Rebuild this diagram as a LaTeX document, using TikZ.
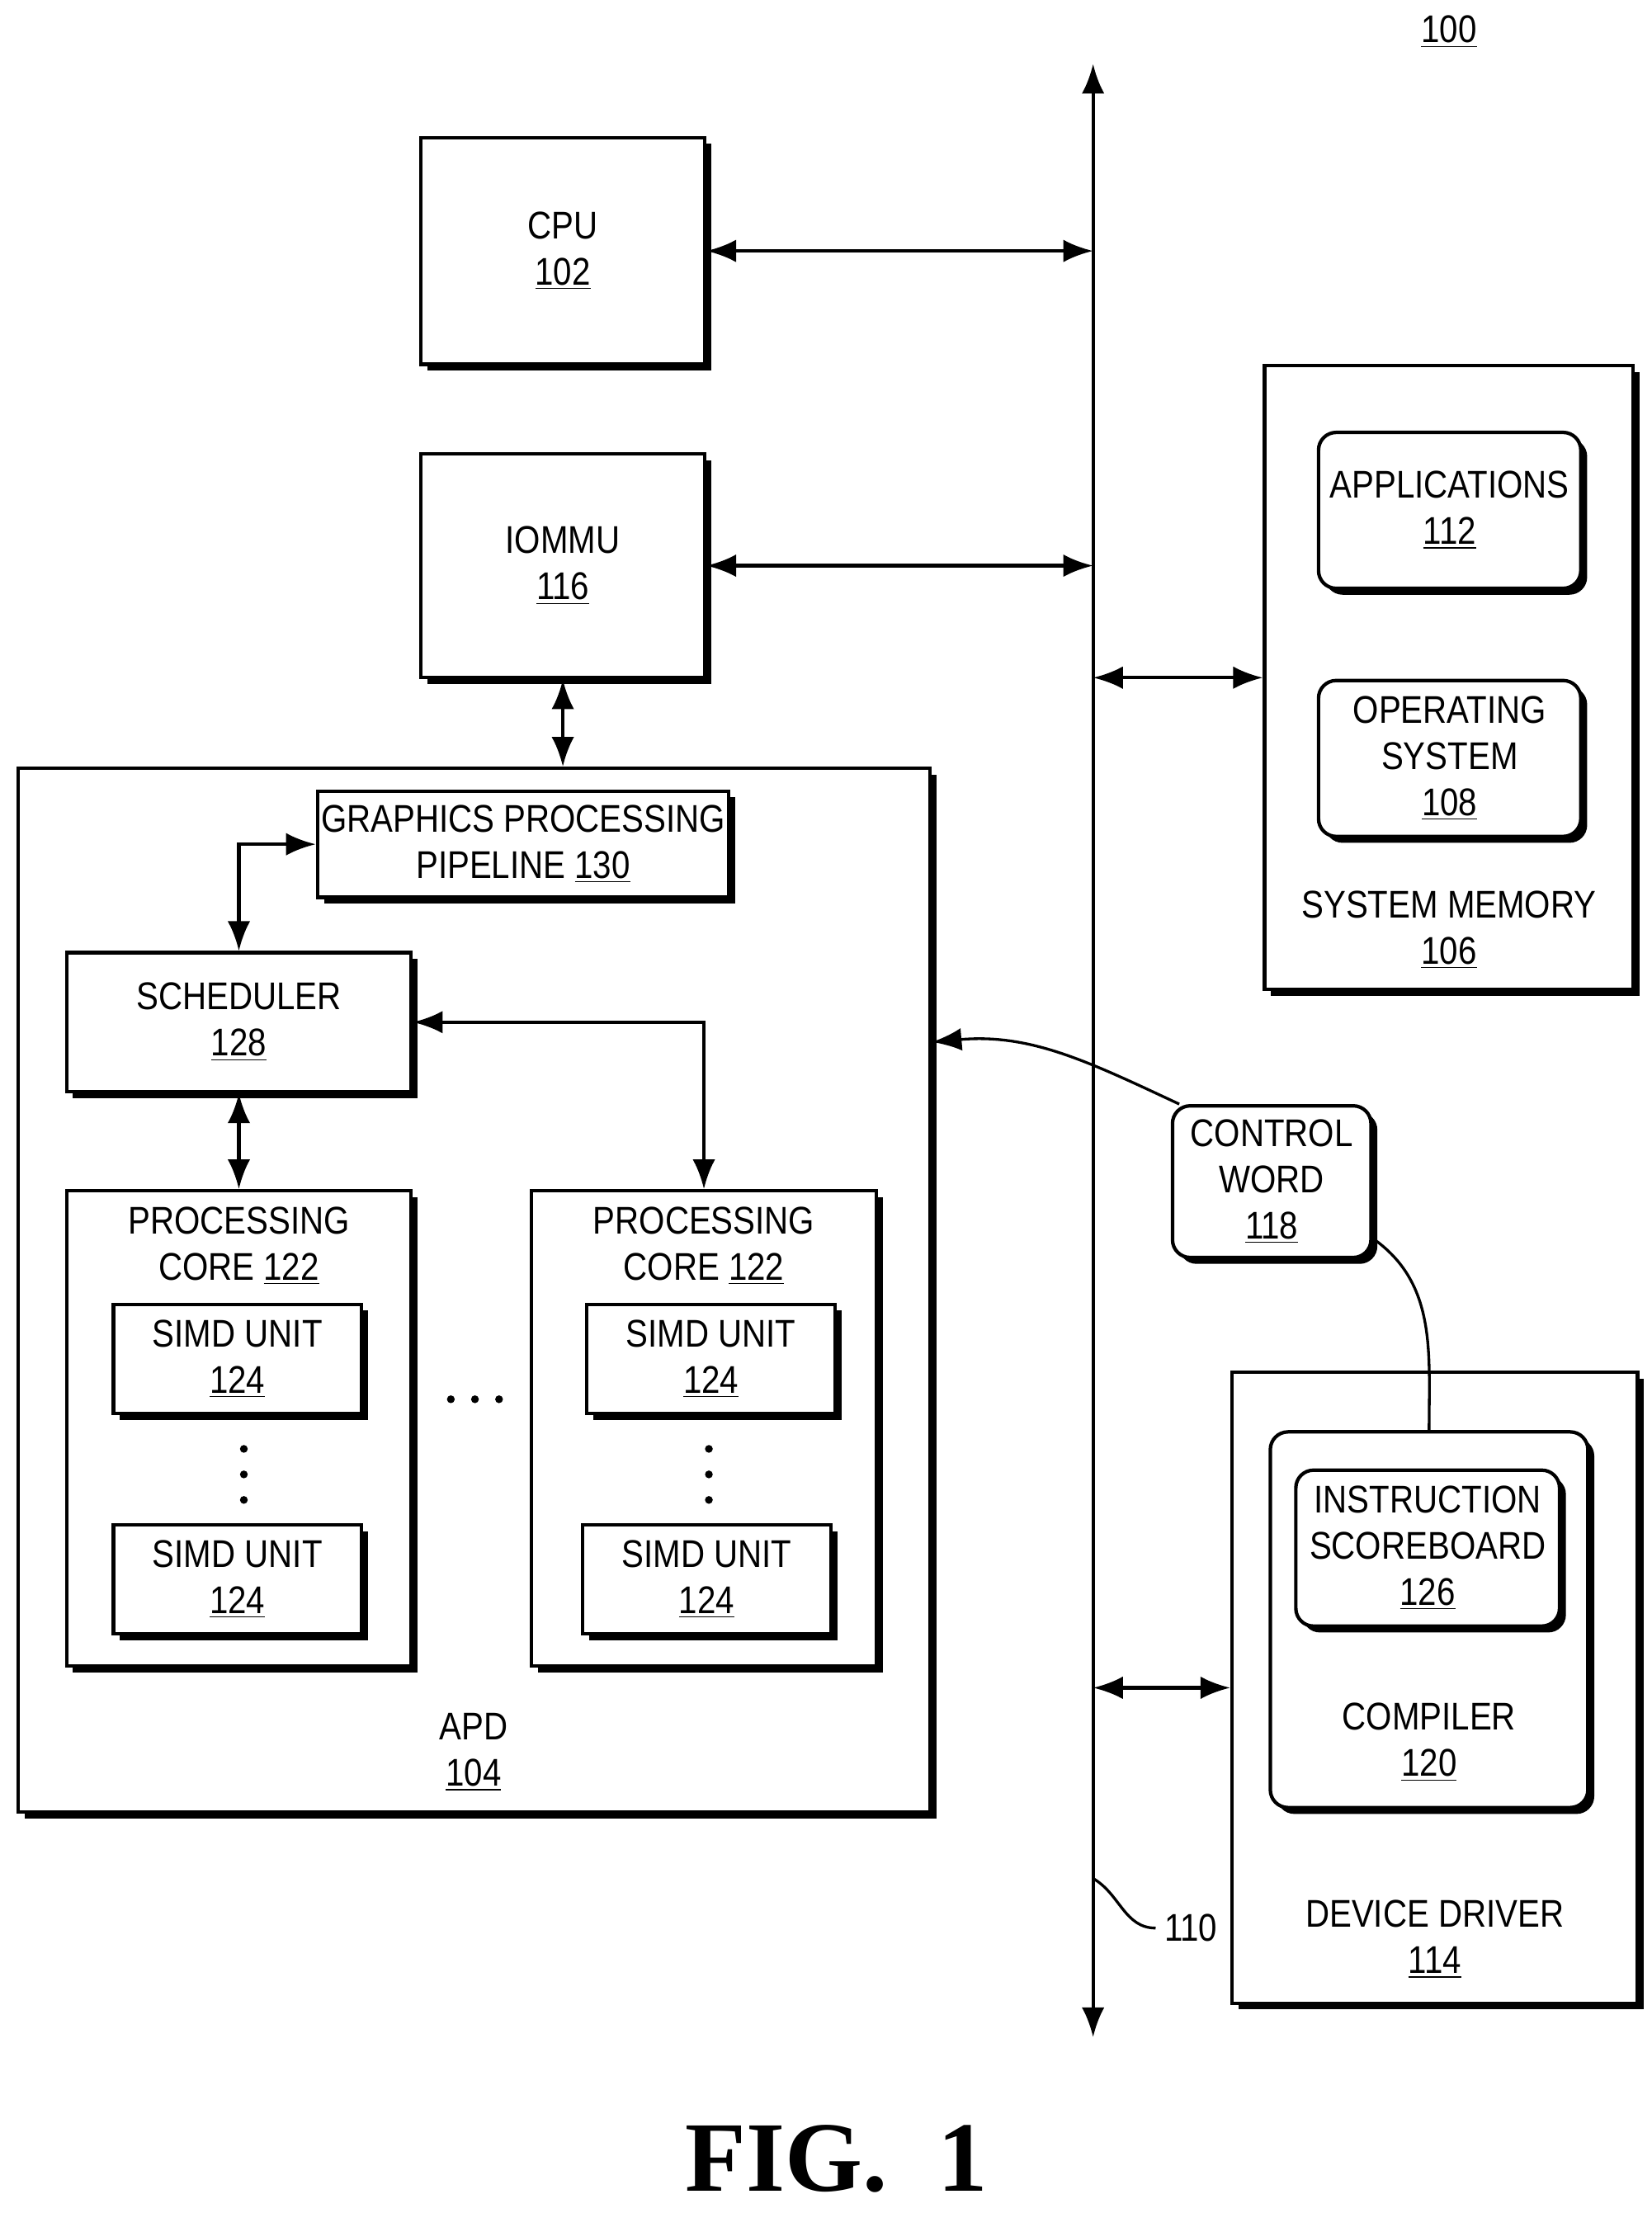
\documentclass[tikz,border=0pt]{standalone}
\usepackage{fontspec}
\setmainfont{Liberation Sans}[FakeStretch=0.86]
\newfontfamily\figfont{Liberation Serif}
\usetikzlibrary{arrows.meta,positioning,calc,shadows}

\begin{document}
\begin{tikzpicture}[
    every node/.style={font=\fontsize{15.5}{18.5}\selectfont, align=center},
    box/.style={rectangle, draw, line width=1.4pt, fill=white, inner sep=0pt,
        drop shadow={shadow xshift=0.09cm, shadow yshift=-0.09cm, fill=black, opacity=1}},
    rbox/.style={box, rounded corners=0.25cm},
    link/.style={line width=1.4pt, {Latex[length=0.42cm,width=0.32cm]}-{Latex[length=0.42cm,width=0.32cm]}},
    wire/.style={line width=1.1pt}
]
\useasboundingbox (0,0) rectangle (23.3,-31.22);

\node at (20.44,-0.45) {\underline{100}};

% bus 110
\coordinate (bt) at (15.42,-0.9);
\coordinate (bb) at (15.42,-28.74);
\draw[link] (bt) -- (bb);

% host side
\node[box, minimum width=4cm, minimum height=3.2cm] (cpu) at (7.94,-3.54) {CPU\\\underline{102}};
\node[box, minimum width=4cm, minimum height=3.16cm] (iommu) at (7.94,-7.98) {IOMMU\\\underline{116}};

\node[box, minimum width=5.2cm, minimum height=8.8cm] (sysmem) at (20.44,-9.56) {};
\node[rbox, minimum width=3.7cm, minimum height=2.2cm] (apps) at (20.45,-7.2) {APPLICATIONS\\\underline{112}};
\node[rbox, minimum width=3.7cm, minimum height=2.2cm] (os) at (20.45,-10.7) {OPERATING\\SYSTEM\\\underline{108}};
\node (sysmemlbl) at (20.44,-13.12) {SYSTEM MEMORY\\\underline{106}};

% APD
\node[box, minimum width=12.86cm, minimum height=14.72cm] (apd) at (6.69,-18.2) {};
\node (apdlbl) at (6.68,-24.72) {APD\\\underline{104}};
\node[box, minimum width=5.8cm, minimum height=1.5cm] (gpp) at (7.38,-11.91) {GRAPHICS PROCESSING\\PIPELINE \underline{130}};
\node[box, minimum width=4.86cm, minimum height=1.96cm] (sched) at (3.37,-14.42) {SCHEDULER\\\underline{128}};

\node[box, minimum width=4.86cm, minimum height=6.7cm] (pc1) at (3.37,-20.15) {};
\node[box, minimum width=4.86cm, minimum height=6.7cm] (pc2) at (9.93,-20.15) {};
\node (pc1lbl) at (3.37,-17.58) {PROCESSING\\CORE \underline{122}};
\node (pc2lbl) at (9.93,-17.58) {PROCESSING\\CORE \underline{122}};
\node[box, minimum width=3.5cm, minimum height=1.54cm] (simd1) at (3.35,-19.17) {SIMD UNIT\\\underline{124}};
\node[box, minimum width=3.5cm, minimum height=1.54cm] (simd2) at (3.35,-22.28) {SIMD UNIT\\\underline{124}};
\node[box, minimum width=3.5cm, minimum height=1.54cm] (simd3) at (10.03,-19.17) {SIMD UNIT\\\underline{124}};
\node[box, minimum width=3.5cm, minimum height=1.54cm] (simd4) at (9.97,-22.28) {SIMD UNIT\\\underline{124}};
\foreach \y in {-20.44,-20.8,-21.16} {
    \fill (3.44,\y) circle (0.055);
    \fill (10.0,\y) circle (0.055);
}
\foreach \x in {6.36,6.7,7.04}
    \fill (\x,-19.74) circle (0.055);

% driver side
\node[rbox, minimum width=2.8cm, minimum height=2.14cm] (cw) at (17.94,-16.67) {CONTROL\\WORD\\\underline{118}};
\node[box, minimum width=5.72cm, minimum height=8.9cm] (dd) at (20.24,-23.81) {};
\node (ddlbl) at (20.24,-27.36) {DEVICE DRIVER\\\underline{114}};
\node[rbox, minimum width=4.48cm, minimum height=5.3cm] (comp) at (20.16,-22.85) {};
\node (complbl) at (20.16,-24.58) {COMPILER\\\underline{120}};
\node[rbox, minimum width=3.72cm, minimum height=2.2cm] (sb) at (20.14,-21.84) {INSTRUCTION\\SCOREBOARD\\\underline{126}};

% links
\draw[link] (cpu.east) -- (cpu.east -| bt);
\draw[link] (iommu.east) -- (iommu.east -| bt);
\draw[link] (sysmem.west -| bt) -- (sysmem.west);
\draw[link] (dd.west -| bt) -- (dd.west);
\draw[link] (iommu.south) -- (iommu.south |- apd.north);
\draw[link] (sched.north) |- (gpp.west);
\draw[link] (sched.south) -- (pc1.north);
\draw[link] (sched.east) -| (pc2.north);

\coordinate (apdin) at (apd.east |- 0,-14.7);
\draw[wire, -{Latex[length=0.42cm,width=0.32cm]}] ([xshift=0.12cm]cw.north west) to[out=155,in=5] (apdin);
\draw[wire] ([yshift=-0.8cm]cw.east) to[out=-35,in=90] (comp.north);

\coordinate (b110) at (bt |- 0,-26.5);
\node (l110) at (16.8,-27.2) {110};
\draw[wire] (b110) to[out=-30,in=180] (l110.west);

\node[font=\figfont\bfseries\fontsize{40}{44}\selectfont] (fig) at (11.8,-30.45) {FIG.~~1};
\end{tikzpicture}
\end{document}
